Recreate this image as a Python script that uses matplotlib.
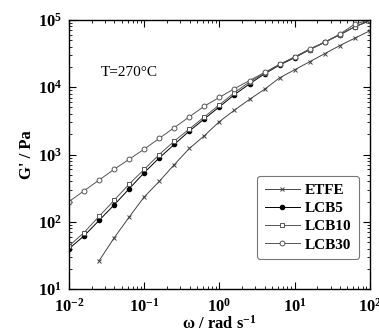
import numpy as np
import matplotlib.pyplot as plt
from matplotlib.ticker import LogLocator, NullFormatter, FuncFormatter

plt.rcParams.update({
    "font.family": "serif",
    "font.serif": ["Liberation Serif"],
    "font.size": 11,
    "mathtext.fontset": "custom",
    "mathtext.rm": "Liberation Serif:bold",
    "mathtext.it": "Liberation Serif:bold",
    "mathtext.bf": "Liberation Serif:bold",
    "axes.linewidth": 1.0,
    "xtick.direction": "in",
    "ytick.direction": "in",
    "xtick.top": True,
    "ytick.right": True,
    "xtick.major.size": 5,
    "ytick.major.size": 5,
    "xtick.minor.size": 2.5,
    "ytick.minor.size": 2.5,
})

# frequency grid, 5 points per decade
k = np.arange(-10, 11)
omega = 10.0 ** (k / 5)

# log10(G')
lcb30 = [2.30, 2.46, 2.62, 2.78, 2.93, 3.08, 3.24, 3.40, 3.56, 3.72, 3.85,
         3.98, 4.10, 4.22, 4.34, 4.45, 4.57, 4.67, 4.79, 4.94, 5.00]
lcb10 = [1.64, 1.84, 2.08, 2.32, 2.56, 2.78, 3.00, 3.20, 3.38, 3.56, 3.74,
         3.92, 4.08, 4.21, 4.34, 4.45, 4.56, 4.67, 4.78, 4.90, 4.99]
lcb5 = [1.60, 1.79, 2.02, 2.25, 2.49, 2.73, 2.95, 3.15, 3.35, 3.53, 3.71,
        3.89, 4.05, 4.20, 4.33, 4.44, 4.56, 4.67, 4.78, 4.90, 4.99]
etfe = [1.42, 1.76, 2.07, 2.37, 2.60, 2.85, 3.09, 3.28, 3.49, 3.66, 3.82,
        3.97, 4.14, 4.26, 4.38, 4.50, 4.62, 4.73, 4.84]
omega_etfe = omega[2:]

fig = plt.figure(figsize=(3.79, 3.33), dpi=100)
ax = fig.add_axes([0.182, 0.132, 0.794, 0.808])

ax.plot(omega_etfe, 10 ** np.array(etfe), '-x', color='#444444', lw=0.7,
        ms=3.5, mew=0.7, label='ETFE')
ax.plot(omega, 10 ** np.array(lcb5), '-o', color='black', lw=0.7,
        ms=3, mfc='black', label='LCB5')
ax.plot(omega, 10 ** np.array(lcb10), '-s', color='#555555', lw=0.7,
        ms=3.5, mfc='white', mew=0.7, label='LCB10')
ax.plot(omega, 10 ** np.array(lcb30), '-o', color='#555555', lw=0.7,
        ms=3.5, mfc='white', mew=0.7, label='LCB30')

ax.set_xscale('log')
ax.set_yscale('log')
ax.set_xlim(1e-2, 1e2)
ax.set_ylim(1e1, 1e5)
ax.xaxis.set_minor_locator(LogLocator(base=10, subs=np.arange(2, 10), numticks=20))
ax.yaxis.set_minor_locator(LogLocator(base=10, subs=np.arange(2, 10), numticks=20))
ax.xaxis.set_minor_formatter(NullFormatter())
ax.yaxis.set_minor_formatter(NullFormatter())
dec = FuncFormatter(lambda v, p: r'$\mathrm{10^{%d}}$' % round(np.log10(v)))
ax.xaxis.set_major_formatter(dec)
ax.yaxis.set_major_formatter(dec)
ax.tick_params(labelsize=12)
ax.tick_params(axis='x', pad=6)
ax.tick_params(axis='y', pad=5)

ax.set_xlabel('ω / rad s$^{-1}$', fontweight='bold', fontsize=12, labelpad=0)
ax.set_ylabel("G' / Pa", fontweight='bold', fontsize=12, labelpad=2)

ax.text(0.105, 0.79, 'T=270°C', transform=ax.transAxes, fontsize=11)

leg = ax.legend(loc='upper left', bbox_to_anchor=(0.60, 0.45), frameon=True,
                fancybox=True, edgecolor='#555555', handlelength=2.3,
                borderpad=0.5, labelspacing=0.3, handletextpad=0.3,
                prop={'weight': 'bold', 'size': 11})
leg.get_frame().set_linewidth(0.8)

fig.savefig('out.png', dpi=100)
